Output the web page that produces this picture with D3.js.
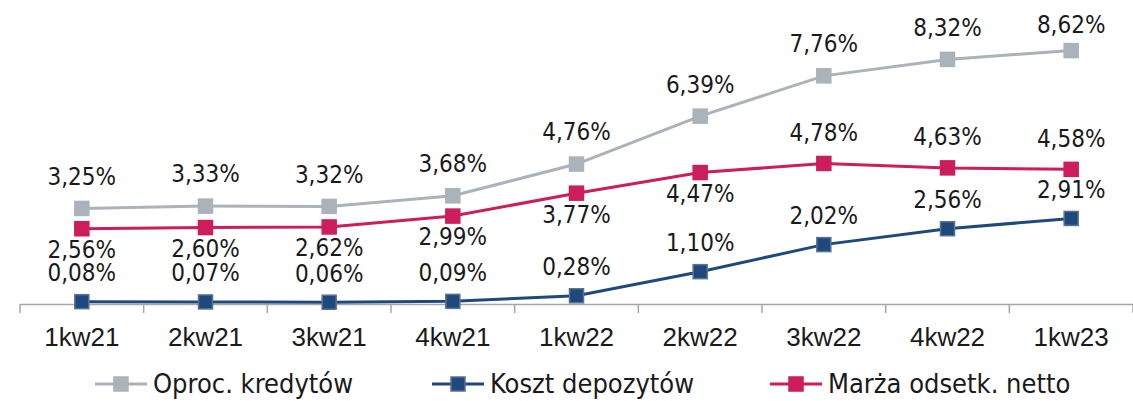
<!DOCTYPE html>
<html>
<head>
<meta charset="utf-8">
<script src="https://cdn.jsdelivr.net/npm/d3@7"></script>
<style>
  body { margin: 0; background: #fff; }
  svg { display: block; font-family: "DejaVu Sans Condensed", "DejaVu Sans", sans-serif; }
</style>
</head>
<body>
<svg width="1133" height="401"></svg>
<script>
// dane
const kwartaly = ['1kw21', '2kw21', '3kw21', '4kw21', '1kw22', '2kw22', '3kw22', '4kw22', '1kw23'];
const oprocKredytow = [3.25, 3.33, 3.32, 3.68, 4.76, 6.39, 7.76, 8.32, 8.62];
const kosztDepozytow = [0.08, 0.07, 0.06, 0.09, 0.28, 1.10, 2.02, 2.56, 2.91];
const marzaNetto = [2.56, 2.60, 2.62, 2.99, 3.77, 4.47, 4.78, 4.63, 4.58];
const nazwySerii = ['Oproc. kredytów', 'Koszt depozytów', 'Marża odsetk. netto'];

const serie = [
  { name: nazwySerii[0], values: oprocKredytow, color: '#aab2ba', stroke: '#aab2ba', lab: 'above' },
  { name: nazwySerii[1], values: kosztDepozytow, color: '#1f497d', stroke: '#5a7190', lab: 'above' },
  { name: nazwySerii[2], values: marzaNetto, color: '#cc1e5b', stroke: '#cc1e5b', lab: 'mixed' }
];

const svg = d3.select('svg');
const left = 20, right = 1133, axisY = 304;

const xScale = d3.scaleBand().domain(kwartaly).range([left, right]);
const yScale = d3.scaleLinear().domain([0, 10]).range([axisY, 10]);
const cx = d => xScale(d) + xScale.bandwidth() / 2;

// os X
const xAxis = d3.axisBottom(xScale).tickSize(0).tickPadding(24);
const gx = svg.append('g').attr('transform', `translate(0,${axisY})`).call(xAxis);
gx.select('.domain').attr('stroke', '#a6a6a6').attr('stroke-width', 1.5);
gx.selectAll('text').attr('font-size', 26).attr('fill', '#1a1a1a').attr('font-family', null);
// kreski podzialu miedzy kategoriami
const granice = kwartaly.map(k => xScale(k)).concat([right]);
svg.append('g').selectAll('line').data(granice).enter().append('line')
  .attr('x1', d => d).attr('x2', d => d)
  .attr('y1', axisY).attr('y2', axisY + 9)
  .attr('stroke', '#a6a6a6').attr('stroke-width', 1.5);

const line = d3.line().x((d, i) => cx(kwartaly[i])).y(d => yScale(d));

serie.forEach(s => {
  const g = svg.append('g');
  g.append('path').datum(s.values)
    .attr('d', line).attr('fill', 'none')
    .attr('stroke', s.color).attr('stroke-width', 3);
  g.selectAll('rect').data(s.values).enter().append('rect')
    .attr('x', (d, i) => cx(kwartaly[i]) - 7)
    .attr('y', d => yScale(d) - 7)
    .attr('width', 14).attr('height', 14)
    .attr('fill', s.color).attr('stroke', s.stroke).attr('stroke-width', 1.5);
  g.selectAll('text').data(s.values).enter().append('text')
    .attr('x', (d, i) => cx(kwartaly[i]))
    .attr('y', (d, i) => {
      let y;
      if (s.lab === 'mixed') y = i >= 6 ? yScale(d) - 31 : yScale(d) + 21;
      else y = yScale(d) - (s.name === nazwySerii[0] ? 32 : 29);
      return Math.max(y, 25);
    })
    .attr('dy', '0.35em')
    .attr('text-anchor', 'middle')
    .attr('font-size', 24).attr('fill', '#1a1a1a')
    .text(d => d.toFixed(2).replace('.', ',') + '%');
});

// legenda
const legX = [95, 432, 770];
const leg = svg.append('g').selectAll('g').data(serie).enter().append('g')
  .attr('transform', (d, i) => `translate(${legX[i]},384)`);
leg.append('line').attr('x1', 0).attr('x2', 52).attr('y1', 0).attr('y2', 0)
  .attr('stroke', d => d.color).attr('stroke-width', 3);
leg.append('rect').attr('x', 19).attr('y', -7).attr('width', 14).attr('height', 14)
  .attr('fill', d => d.color).attr('stroke', d => d.stroke).attr('stroke-width', 1.5);
leg.append('text').attr('x', 58).attr('dy', '0.35em')
  .attr('font-size', 27).attr('fill', '#1a1a1a')
  .text(d => d.name);
</script>
</body>
</html>
